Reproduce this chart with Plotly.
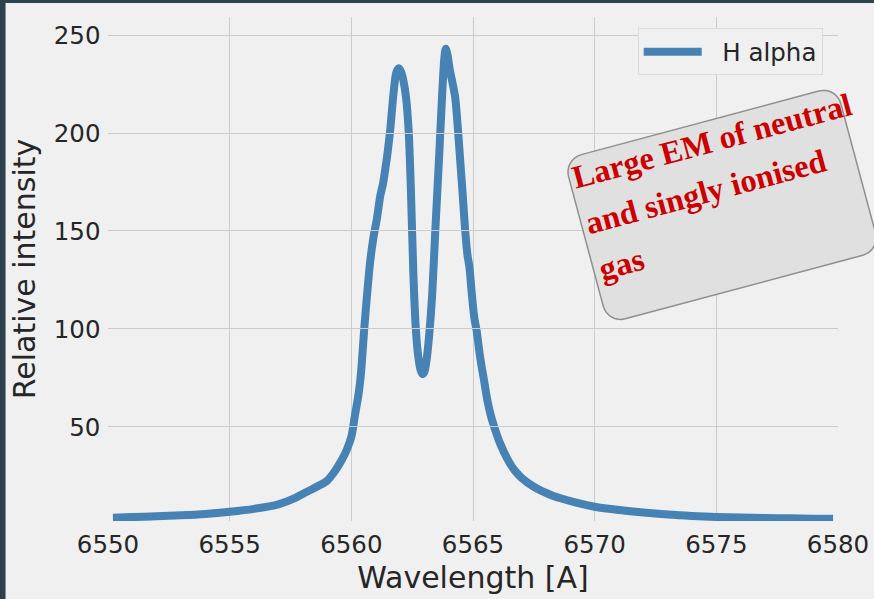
import math
import plotly.graph_objects as go

# ---------------- data ----------------
wavelength = [6550.2, 6551, 6552, 6553, 6554, 6555, 6556, 6557, 6557.7, 6558, 6558.5, 6559,
              6559.3, 6559.6, 6559.8, 6560.0, 6560.15, 6560.3, 6560.4, 6560.53, 6560.65, 6560.78,
              6560.9, 6561.06, 6561.19, 6561.3, 6561.4, 6561.5, 6561.6, 6561.74, 6561.85, 6561.95,
              6562.05, 6562.15, 6562.25, 6562.36, 6562.45, 6562.55, 6562.65, 6562.75, 6562.85,
              6562.92, 6563.0, 6563.1, 6563.2, 6563.32, 6563.45, 6563.6, 6563.73, 6563.82, 6563.88,
              6563.95, 6564.05, 6564.15, 6564.27, 6564.38, 6564.48, 6564.58, 6564.68, 6564.78,
              6564.85, 6564.95, 6565.05, 6565.15, 6565.3, 6565.45, 6565.6, 6565.75, 6565.9, 6566.1,
              6566.4, 6566.7, 6567.0, 6567.5, 6568.2, 6568.6, 6569.2, 6570.0, 6571.0, 6572.0,
              6573.0, 6574.0, 6575.0, 6576.0, 6577.0, 6578.0, 6579.0, 6579.8]
intensity = [3.7, 4.0, 4.4, 4.9, 5.6, 6.7, 8.2, 10.5, 13.8, 15.8, 19.0, 22.5,
             27, 33, 38, 45, 56, 67, 78, 100, 118, 135,
             146, 157, 168, 174, 182, 191, 202, 221, 231, 233,
             231, 226, 218, 200, 170, 128, 100, 86, 79,
             77, 78, 85, 97, 117, 150, 186, 219, 238, 243,
             240, 232, 226, 218, 202, 185, 168, 150, 137,
             132, 118, 106, 99, 85, 74, 63, 55, 49, 42,
             34, 28, 24, 19.5, 15.3, 13.6, 11.5, 9.3, 7.6, 6.3,
             5.3, 4.6, 4.1, 3.8, 3.5, 3.4, 3.2, 3.1]
series_name = "H alpha"
x_ticks = [6550, 6555, 6560, 6565, 6570, 6575, 6580]
y_ticks = [50, 100, 150, 200, 250]
note_lines = ["Large EM of neutral", "and singly ionised", "gas"]

# ---------------- layout geometry ----------------
FIG_W, FIG_H = 874, 599
L, R, T, B = 107.5, 837.8, 17.0, 521.0
W, H = R - L, B - T
x_full = [6550, 6580]
x_data_range = [6550.18, 6579.82]
y_range = [2.0, 259.2]


def pp(px, py):
    return (px - L) / W, (B - py) / H


FONT = "DejaVu Sans"
TXT = "#262626"
GRID = "#cbcbcb"
LINE = "#4682b4"

fig = go.Figure()
fig.add_trace(go.Scatter(x=wavelength, y=intensity, mode="lines",
                         name="\u00a0\u00a0" + series_name,
                         line=dict(color=LINE, width=8, shape="spline", smoothing=0.8),
                         xaxis="x", yaxis="y"))
fig.add_trace(go.Scatter(x=[], y=[], mode="lines", showlegend=False, hoverinfo="skip",
                         xaxis="x2", yaxis="y"))

dom0 = (x_data_range[0] - x_full[0]) / (x_full[1] - x_full[0])
dom1 = (x_data_range[1] - x_full[0]) / (x_full[1] - x_full[0])

shapes = []
# outer light panel over dark frame
x0, y0 = pp(5, 610)
x1, y1 = pp(890, 3)
shapes.append(dict(type="rect", xref="paper", yref="paper", x0=x0, y0=y0, x1=x1, y1=y1,
                   fillcolor="#f0f0f0", line=dict(width=0), layer="below"))

# rotated rounded box for the note
cx, cy = 721.8, 204.9
hw, hh, rad = 141.0, 85.0, 18.0
ang = math.radians(15)
ca, sa = math.cos(ang), math.sin(ang)


def rot(u, v):
    return cx + u * ca + v * sa, cy - u * sa + v * ca


pts = []
corners = [(hw - rad, -(hh - rad), -90, 0), (hw - rad, hh - rad, 0, 90),
           (-(hw - rad), hh - rad, 90, 180), (-(hw - rad), -(hh - rad), 180, 270)]
for (ux, vy, a0, a1) in corners:
    for k in range(9):
        t = math.radians(a0 + (a1 - a0) * k / 8)
        pts.append(rot(ux + rad * math.cos(t), vy + rad * math.sin(t)))
path = "M " + " L ".join("%.5f,%.5f" % pp(px, py) for px, py in pts) + " Z"
shapes.append(dict(type="path", xref="paper", yref="paper", path=path,
                   fillcolor="#e0e0e0", line=dict(color="#8f8f8f", width=1.5), layer="above"))

# note text, one annotation per line
annotations = []
u_left = -135.0
baselines = [-54.0, -7.0, 41.0]
widths = [283.0, 244.0, 45.0]
for txt, vb, wdt in zip(note_lines, baselines, widths):
    px, py = rot(u_left + wdt / 2, vb - 10)
    ax_, ay_ = pp(px, py)
    annotations.append(dict(xref="paper", yref="paper", x=ax_, y=ay_, text="<b>%s</b>" % txt,
                            showarrow=False, textangle=-15, xanchor="center", yanchor="middle",
                            font=dict(family="Liberation Serif", size=32.5, color="#cc0000")))

lx, ly = pp(822.5, 28.3)

fig.update_layout(
    template="none",
    width=FIG_W, height=FIG_H,
    margin=dict(l=L, r=FIG_W - R, t=T, b=FIG_H - B, pad=0, autoexpand=False),
    paper_bgcolor="#2e414f",
    plot_bgcolor="rgba(0,0,0,0)",
    font=dict(family=FONT, size=24.5, color=TXT),
    showlegend=True,
    legend=dict(x=lx, y=ly, xanchor="right", yanchor="top", bgcolor="#f0f0f0",
                bordercolor="#dcdcdc", borderwidth=1, itemwidth=58,
                font=dict(family=FONT, size=24.5, color=TXT)),
    xaxis=dict(domain=[dom0, dom1], range=x_data_range, tickvals=x_ticks, showticklabels=False,
               showgrid=True, gridcolor=GRID, gridwidth=1.3, zeroline=False, showline=False,
               ticks="", anchor="y", automargin=False),
    xaxis2=dict(domain=[0, 1], range=x_full, tickvals=x_ticks, ticktext=[str(v) for v in x_ticks],
                showgrid=False, zeroline=False, showline=False, ticks="outside", ticklen=2,
                tickcolor="rgba(0,0,0,0)", anchor="y", side="bottom", automargin=False,
                tickfont=dict(family=FONT, size=24.5, color=TXT),
                title=dict(text="Wavelength [A]", standoff=8,
                           font=dict(family=FONT, size=30, color=TXT))),
    yaxis=dict(range=y_range, tickvals=y_ticks, showgrid=True, gridcolor=GRID, gridwidth=1.3,
               zeroline=False, showline=False, ticks="outside", ticklen=6,
               tickcolor="rgba(0,0,0,0)", anchor="x", automargin=False,
               tickfont=dict(family=FONT, size=24.5, color=TXT),
               title=dict(text="Relative intensity", standoff=9,
                          font=dict(family=FONT, size=30, color=TXT))),
    shapes=shapes,
    annotations=annotations,
)

fig.write_html("out.html")
